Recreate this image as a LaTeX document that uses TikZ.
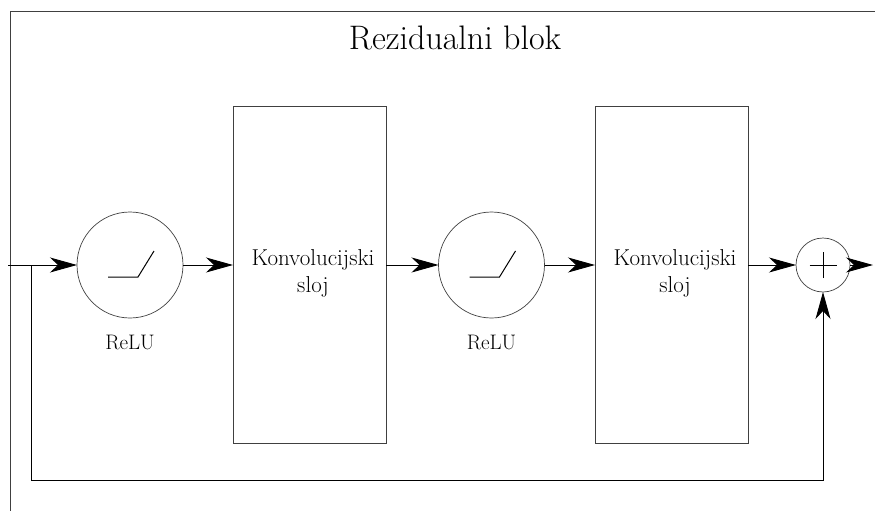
\documentclass[tikz,border=0pt]{standalone}
\usepackage{fontspec}
\setmainfont{Latin Modern Roman}
\usetikzlibrary{arrows.meta}
\begin{document}
\begin{tikzpicture}[x=1pt,y=-1pt,
  line width=0.9pt,
  every node/.style={inner sep=0pt, outer sep=0pt},
  arr/.style={-{Stealth[length=27pt,width=15pt,inset=8pt]}},
  actcirc/.style={circle, draw=black!75, line width=0.7pt, minimum size=106pt},
  sumcirc/.style={circle, draw=black!75, line width=0.7pt, minimum size=54pt},
  layerbox/.style={rectangle, draw=black!75, line width=0.8pt, minimum width=153pt, minimum height=337pt},
  boxtext/.style={align=center, font=\fontsize{23}{27}\selectfont},
  lbl/.style={font=\fontsize{21}{24}\selectfont},
  ttl/.style={font=\fontsize{34}{38}\selectfont}]
\useasboundingbox (0,0) rectangle (875,511);

% enclosing block outline
\draw[black!75, line width=1pt] (10,511) -- (10,12) -- (875,12);
\node[ttl, anchor=base] (title) at (455,50) {Rezidualni blok};

% blocks
\node[actcirc] (relu1) at (130,265) {};
\node[layerbox] (conv1) at (309.5,274.5) {};
\node[actcirc] (relu2) at (491.5,265) {};
\node[layerbox] (conv2) at (671.5,274.5) {};
\node[sumcirc] (sum) at (823,265) {};

% two-line captions, anchored on the baseline of the last line
\node[boxtext, anchor=base] (conv1txt) at (313,292) {Konvolucijski\\sloj};
\node[boxtext, anchor=base] (conv2txt) at (675,292) {Konvolucijski\\sloj};
\node[lbl, anchor=base] (relu1lbl) at (130,349) {ReLU};
\node[lbl, anchor=base] (relu2lbl) at (491.5,349) {ReLU};

% ReLU glyphs
\draw[line width=1pt] ([shift={(-22,12)}]relu1.center) -- ([shift={(8,12)}]relu1.center) -- ([shift={(24,-14)}]relu1.center);
\draw[line width=1pt] ([shift={(-22,12)}]relu2.center) -- ([shift={(8,12)}]relu2.center) -- ([shift={(24,-14)}]relu2.center);

% summation cross
\draw[line width=0.7pt] ([xshift=-13.5pt]sum.center) -- ([xshift=13.5pt]sum.center);
\draw[line width=0.7pt] ([yshift=-13pt]sum.center) -- ([yshift=13pt]sum.center);

% main path
\coordinate (in) at (8,265);
\coordinate (split) at (31,265);
\coordinate (out) at (873,265);
\draw[arr] (in) -- (relu1.west);
\draw[arr] (relu1.east) -- (conv1.west |- relu1.east);
\draw[arr] (conv1.east |- relu2.west) -- (relu2.west);
\draw[arr] (relu2.east) -- (conv2.west |- relu2.east);
\draw[arr] (conv2.east |- sum.west) -- (sum.west);
\draw[arr] (sum.east) -- (out);

% skip connection
\coordinate (skipl) at (31,480);
\coordinate (skipr) at (823,480);
\draw[arr] (split) -- (skipl) -- (skipr) -- (sum.south);
\end{tikzpicture}
\end{document}
